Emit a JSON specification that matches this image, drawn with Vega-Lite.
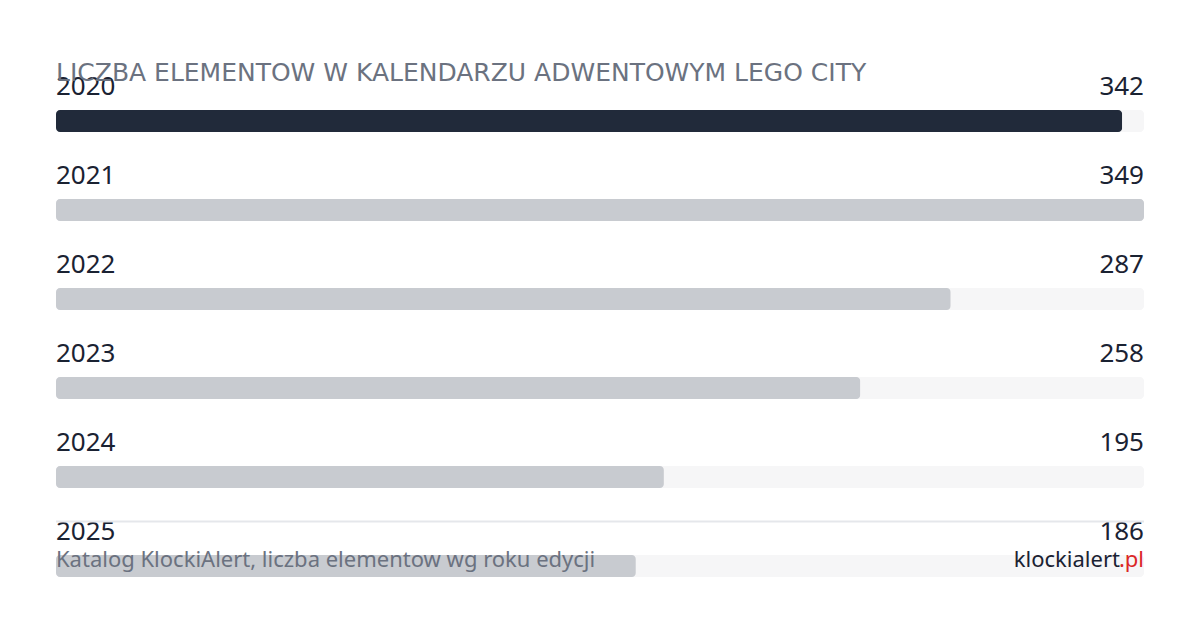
{
  "$schema": "https://vega.github.io/schema/vega-lite/v6.json",
  "width": 1088,
  "height": 534,
  "autosize": "none",
  "padding": {"left": 56, "top": 76.5, "right": 56, "bottom": 19.5},
  "background": "#ffffff",
  "config": {"view": {"stroke": null}, "font": "Noto Sans"},
  "title": {
    "text": "LICZBA ELEMENTOW W KALENDARZU ADWENTOWYM LEGO CITY",
    "anchor": "start",
    "frame": "group",
    "baseline": "alphabetic",
    "offset": -32,
    "font": "DejaVu Sans",
    "fontSize": 25,
    "fontWeight": "normal",
    "color": "#6b7280"
  },
  "data": {
    "values": [
      {"year": "2020", "count": 342, "highlight": true},
      {"year": "2021", "count": 349, "highlight": false},
      {"year": "2022", "count": 287, "highlight": false},
      {"year": "2023", "count": 258, "highlight": false},
      {"year": "2024", "count": 195, "highlight": false},
      {"year": "2025", "count": 186, "highlight": false}
    ]
  },
  "encoding": {
    "y": {"field": "year", "type": "ordinal", "axis": null,
          "scale": {"paddingInner": 0, "paddingOuter": 0}}
  },
  "layer": [
    {
      "mark": {"type": "bar", "height": 22, "cornerRadius": 4, "color": "#f6f6f7"},
      "encoding": {
        "x": {"datum": 349, "type": "quantitative", "axis": null,
              "scale": {"domain": [0, 349], "nice": false, "zero": true}}
      }
    },
    {
      "mark": {"type": "bar", "height": 22, "cornerRadius": 4},
      "encoding": {
        "x": {"field": "count", "type": "quantitative"},
        "color": {"field": "highlight", "type": "nominal", "legend": null,
                  "scale": {"domain": [true, false], "range": ["#212a3a", "#c8cbd0"]}}
      }
    },
    {
      "mark": {"type": "text", "align": "left", "baseline": "alphabetic", "dy": -26,
               "fontSize": 26, "color": "#1a2232"},
      "encoding": {
        "x": {"datum": 0, "type": "quantitative"},
        "text": {"field": "year"}
      }
    },
    {
      "mark": {"type": "text", "align": "right", "baseline": "alphabetic", "dy": -26,
               "fontSize": 26, "color": "#1a2232"},
      "encoding": {
        "x": {"datum": 349, "type": "quantitative"},
        "text": {"field": "count"}
      }
    },
    {
      "data": {"values": [{"year": "2025"}]},
      "mark": {"type": "rule", "color": "#e5e7eb", "strokeWidth": 2},
      "encoding": {
        "y": {"field": "year", "type": "ordinal", "bandPosition": 0},
        "x": {"datum": 0, "type": "quantitative"},
        "x2": {"datum": 349}
      }
    },
    {
      "data": {"values": [{"year": "2025", "label": "Katalog KlockiAlert, liczba elementow wg roku edycji"}]},
      "mark": {"type": "text", "align": "left", "baseline": "alphabetic", "dy": 1,
               "fontSize": 22, "color": "#6b7280"},
      "encoding": {
        "x": {"datum": 0, "type": "quantitative"},
        "text": {"field": "label"}
      }
    },
    {
      "data": {"values": [{"year": "2025", "label": "klockialert"}]},
      "mark": {"type": "text", "align": "right", "baseline": "alphabetic", "dy": 1, "dx": -24,
               "fontSize": 22, "color": "#1a2232"},
      "encoding": {
        "x": {"datum": 349, "type": "quantitative"},
        "text": {"field": "label"}
      }
    },
    {
      "data": {"values": [{"year": "2025", "label": ".pl"}]},
      "mark": {"type": "text", "align": "right", "baseline": "alphabetic", "dy": 1,
               "fontSize": 22, "color": "#dc2626"},
      "encoding": {
        "x": {"datum": 349, "type": "quantitative"},
        "text": {"field": "label"}
      }
    }
  ]
}
